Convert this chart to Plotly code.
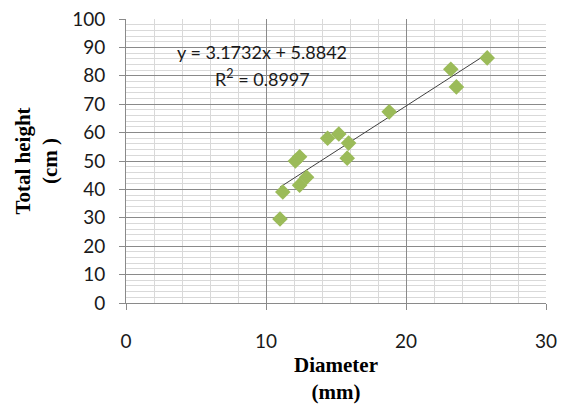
import plotly.graph_objects as go
import numpy as np

# Data
diameter_mm = [11.0, 11.2, 12.1, 12.4, 12.4, 12.9, 14.4, 15.2, 15.9, 15.8, 18.8, 23.2, 23.6, 25.8]
height_cm = [29.6, 39.1, 50.0, 51.5, 41.5, 44.3, 58.0, 59.5, 56.3, 51.0, 67.3, 82.3, 76.1, 86.3]

slope = 3.1732
intercept = 5.8842
r_squared = 0.8997

x_ticks = [0, 10, 20, 30]
y_ticks = [0, 10, 20, 30, 40, 50, 60, 70, 80, 90, 100]

trend_x = np.array([min(diameter_mm), max(diameter_mm)])
trend_y = slope * trend_x + intercept

fig = go.Figure()
fig.add_trace(go.Scatter(
    x=trend_x, y=trend_y, mode="lines",
    line=dict(color="#404040", width=1), showlegend=False, hoverinfo="skip"))
fig.add_trace(go.Scatter(
    x=diameter_mm, y=height_cm, mode="markers",
    marker=dict(symbol="diamond", size=12, color="#9BBB59", line=dict(width=0)),
    showlegend=False))

major_grid = "#8A8A8A"
minor_grid = "#D9D9D9"
tick_font = dict(family="Lato", size=19, color="#1a1a1a")
title_font = dict(family="Liberation Serif", size=21, color="#000000")

fig.update_xaxes(
    range=[0, 30], tickvals=x_ticks, ticktext=[str(v) for v in x_ticks],
    showgrid=True, gridcolor=major_grid, gridwidth=1,
    minor=dict(dtick=2, showgrid=True, gridcolor=minor_grid, gridwidth=1, ticks=""),
    showline=True, linecolor=major_grid, linewidth=1,
    ticks="outside", ticklen=6, tickcolor=major_grid,
    tickfont=tick_font, ticklabelstandoff=15,
    zeroline=False, mirror=False, automargin=False,
    title=dict(text="<b>Diameter<br>(mm)</b>", font=title_font, standoff=7),
)
fig.update_yaxes(
    range=[0, 100], tickvals=y_ticks, ticktext=[str(v) for v in y_ticks],
    showgrid=True, gridcolor=major_grid, gridwidth=1,
    minor=dict(dtick=2, showgrid=True, gridcolor=minor_grid, gridwidth=1, ticks=""),
    showline=True, linecolor=major_grid, linewidth=1,
    ticks="outside", ticklen=6, tickcolor=major_grid,
    tickfont=tick_font, ticklabelstandoff=10,
    zeroline=False, automargin=False,
    title=dict(text="<b>Total height<br>(cm )</b>", font=title_font, standoff=8),
)

fig.add_annotation(
    xref="paper", yref="paper", x=(262 - 126) / 420, y=(303 - 51.7) / 284,
    text=f"y = {slope}x + {intercept}", showarrow=False,
    font=dict(family="Lato", size=18, color="#1a1a1a"), xanchor="center", yanchor="middle")
fig.add_annotation(
    xref="paper", yref="paper", x=(262.5 - 126) / 420, y=(303 - 78) / 284,
    text=f"R<sup>2</sup> = {r_squared}", showarrow=False,
    font=dict(family="Lato", size=18, color="#1a1a1a"), xanchor="center", yanchor="middle")

fig.update_layout(
    width=563, height=404,
    margin=dict(l=126, r=17, t=19, b=101),
    paper_bgcolor="white", plot_bgcolor="white",
)

fig.write_html("out.html")
